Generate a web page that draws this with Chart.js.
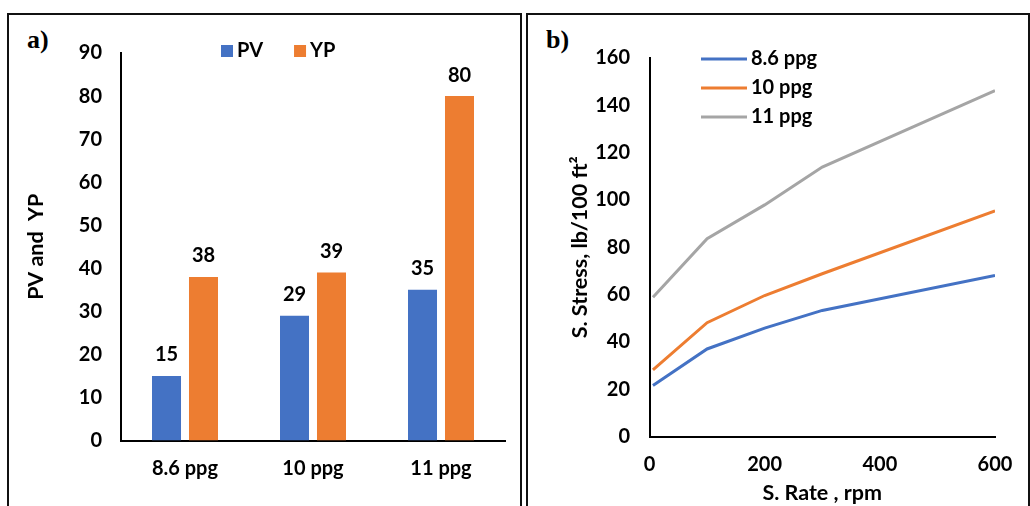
<!DOCTYPE html>
<html>
<head>
<meta charset="utf-8">
<script src="https://cdn.jsdelivr.net/npm/chart.js@4.4.1/dist/chart.umd.min.js"></script>
<style>
  html, body { margin: 0; padding: 0; width: 1030px; height: 506px; overflow: hidden; background: #fff; }
  .frame { position: absolute; box-sizing: border-box; border: 2px solid #111; border-bottom: none; }
  .tag { position: absolute; font-family: "Liberation Serif", "Times New Roman", serif; font-weight: bold; font-size: 26px; line-height: 1; }
  canvas { position: absolute; top: 0; }
</style>
</head>
<body>
<div class="frame" style="left:7px; top:13px; width:515px; height:500px"></div>
<div class="frame" style="left:526px; top:13px; width:504px; height:500px"></div>
<div class="tag" style="left:27px; top:27px">a)</div>
<div class="tag" style="left:546px; top:27px">b)</div>
<canvas id="bars" width="522" height="506" style="left:0"></canvas>
<canvas id="flow" width="508" height="506" style="left:522px"></canvas>
<script>
// Panel a: plastic viscosity and yield point per mud weight
const mudWeights = ['8.6 ppg', '10 ppg', '11 ppg'];
const pvValues = [15, 29, 35];
const ypValues = [38, 39, 80];

// Panel b: shear stress vs. shear rate for each mud weight
const shearRates = [6, 100, 200, 300, 600];
const stress86 = [21.6, 37.0, 45.8, 53.3, 68.1];
const stress10 = [28.2, 48.1, 59.6, 68.8, 95.4];
const stress11 = [58.9, 83.6, 97.9, 113.9, 146.2];

const BLUE = '#4472C4', ORANGE = '#ED7D31', GRAY = '#A5A5A5';
const FONT = 'Lato';
const FONT_SIZE = 20;
const tickFont = { family: FONT, size: FONT_SIZE, weight: 'bold' };
const titleFont = { family: FONT, size: 21.5, weight: 'bold' };
const textFont = `bold ${FONT_SIZE}px ${FONT}`;

// value labels above each bar
const barValueLabels = {
  id: 'barValueLabels',
  afterDatasetsDraw(chart) {
    const ctx = chart.ctx;
    ctx.save();
    ctx.font = textFont;
    ctx.fillStyle = '#000';
    ctx.textAlign = 'center';
    ctx.textBaseline = 'middle';
    chart.data.datasets.forEach((ds, i) => {
      chart.getDatasetMeta(i).data.forEach((bar, j) => {
        ctx.fillText(String(ds.data[j]), bar.x, bar.y - 21);
      });
    });
    ctx.restore();
  }
};

// square-swatch legend along the top of panel a
const boxLegend = {
  id: 'boxLegend',
  afterDraw(chart) {
    const ctx = chart.ctx;
    ctx.save();
    ctx.font = textFont;
    ctx.textBaseline = 'middle';
    ctx.textAlign = 'left';
    let x = 221;
    const y = 51;
    chart.data.datasets.forEach(ds => {
      ctx.fillStyle = ds.backgroundColor;
      ctx.fillRect(x, y - 6, 12, 12);
      ctx.fillStyle = '#000';
      ctx.fillText(ds.label, x + 16, y);
      x += 16 + ctx.measureText(ds.label).width + 31;
    });
    ctx.restore();
  }
};

// stacked line-swatch legend inside panel b
const lineLegend = {
  id: 'lineLegend',
  afterDraw(chart) {
    const ctx = chart.ctx;
    ctx.save();
    ctx.font = textFont;
    ctx.textBaseline = 'middle';
    ctx.textAlign = 'left';
    chart.data.datasets.forEach((ds, i) => {
      const y = 59 + i * 29;
      ctx.strokeStyle = ds.borderColor;
      ctx.lineWidth = 3;
      ctx.beginPath();
      ctx.moveTo(179, y);
      ctx.lineTo(225, y);
      ctx.stroke();
      ctx.fillStyle = '#000';
      ctx.fillText(ds.label, 229, y);
    });
    ctx.restore();
  }
};

new Chart(document.getElementById('bars'), {
  type: 'bar',
  data: {
    labels: mudWeights,
    datasets: [
      { label: 'PV', data: pvValues, backgroundColor: BLUE },
      { label: 'YP', data: ypValues, backgroundColor: ORANGE }
    ]
  },
  options: {
    responsive: false,
    animation: false,
    devicePixelRatio: 1,
    layout: { padding: { left: 0, top: 53, right: 17, bottom: 0 } },
    datasets: { bar: { categoryPercentage: 0.578, barPercentage: 0.784 } },
    plugins: { legend: { display: false }, tooltip: { enabled: false } },
    scales: {
      x: {
        grid: { display: false, drawTicks: false },
        border: { display: true, color: '#000', width: 2 },
        ticks: { color: '#000', font: tickFont, padding: 16 },
        afterFit(s) { s.height = 65.5; }
      },
      y: {
        min: 0, max: 90,
        grid: { display: false, drawTicks: false },
        border: { display: true, color: '#000', width: 2 },
        ticks: { stepSize: 10, color: '#000', font: tickFont, padding: 19 },
        title: { display: true, text: 'PV and  YP', color: '#000', font: titleFont, padding: { top: 23, bottom: 0 } },
        afterFit(s) { s.width = 121; }
      }
    }
  },
  plugins: [barValueLabels, boxLegend]
});

const toPoints = ys => shearRates.map((x, i) => ({ x, y: ys[i] }));

new Chart(document.getElementById('flow'), {
  type: 'line',
  data: {
    datasets: [
      { label: '8.6 ppg', data: toPoints(stress86), borderColor: BLUE },
      { label: '10 ppg', data: toPoints(stress10), borderColor: ORANGE },
      { label: '11 ppg', data: toPoints(stress11), borderColor: GRAY }
    ]
  },
  options: {
    responsive: false,
    animation: false,
    devicePixelRatio: 1,
    layout: { padding: { left: 0, top: 58, right: 35, bottom: 0 } },
    elements: { line: { borderWidth: 3, tension: 0 }, point: { radius: 0 } },
    plugins: { legend: { display: false }, tooltip: { enabled: false } },
    scales: {
      x: {
        type: 'linear', min: 0, max: 600,
        grid: { display: false, drawTicks: false },
        border: { display: true, color: '#000', width: 2 },
        ticks: { stepSize: 200, color: '#000', font: tickFont, padding: 16 },
        title: { display: true, text: 'S. Rate , rpm', color: '#000', font: titleFont, padding: { top: 0, bottom: 0 } },
        afterFit(s) { s.height = 69.5; }
      },
      y: {
        min: 0, max: 160,
        grid: { display: false, drawTicks: false },
        border: { display: true, color: '#000', width: 2 },
        ticks: { stepSize: 20, color: '#000', font: tickFont, padding: 19.5 },
        title: { display: true, text: 'S. Stress, lb/100 ft²', color: '#000', font: titleFont, padding: { top: 45, bottom: 0 } },
        afterFit(s) { s.width = 127.5; }
      }
    }
  },
  plugins: [lineLegend]
});
</script>
</body>
</html>
